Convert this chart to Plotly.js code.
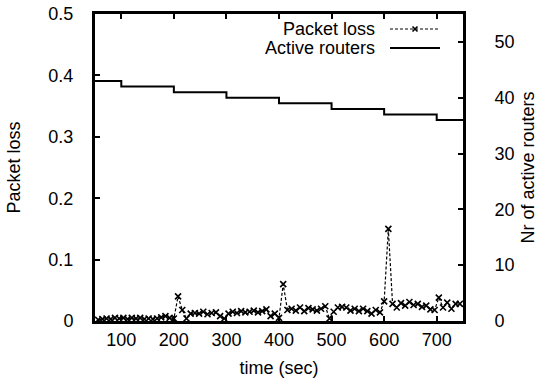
<!DOCTYPE html>
<html>
<head>
<meta charset="utf-8">
<script src="https://cdn.plot.ly/plotly-3.0.1.min.js"></script>
<style>html,body{margin:0;padding:0;background:#fff;}#chart{width:541px;height:385px;}</style>
</head>
<body>
<div id="chart"></div>
<script>
// Packet loss samples (time in seconds, loss fraction)
var lossTime = [56,64,72,80,88,96,104,112,120,128,136,144,152,160,168,176,184,192,200,208,216,224,232,240,248,256,264,272,280,288,296,304,312,320,328,336,344,352,360,368,376,384,392,400,408,416,424,432,440,448,456,464,472,480,488,496,504,512,520,528,536,544,552,560,568,576,584,592,600,608,616,624,632,640,648,656,664,672,680,688,696,704,712,720,728,736,744];
var lossValue = [0.002,0.003,0.004,0.003,0.005,0.004,0.005,0.003,0.005,0.004,0.005,0.003,0.004,0.003,0.004,0.006,0.008,0.005,0.004,0.040,0.018,0.004,0.012,0.013,0.012,0.015,0.011,0.013,0.014,0.008,0.004,0.012,0.015,0.013,0.016,0.014,0.015,0.017,0.014,0.016,0.019,0.008,0.012,0.005,0.060,0.018,0.020,0.017,0.022,0.016,0.021,0.019,0.017,0.020,0.024,0.004,0.015,0.022,0.023,0.022,0.017,0.020,0.016,0.020,0.016,0.012,0.018,0.014,0.032,0.150,0.028,0.022,0.029,0.025,0.031,0.026,0.028,0.023,0.025,0.019,0.018,0.038,0.022,0.030,0.020,0.028,0.028];

// Active routers (step changes)
var routerTime = [50,100,200,300,400,500,600,700,750];
var routerCount = [43,42,41,40,39,38,37,36,36];

var xTicks = [100,200,300,400,500,600,700];
var yTicks = [0,0.1,0.2,0.3,0.4,0.5];
var y2Ticks = [0,10,20,30,40,50];
var legendLabels = ["Packet loss","Active routers"];

var FONT = "Liberation Sans, Arial, Helvetica, sans-serif";

var traces = [
  {
    x: lossTime, y: lossValue, type: "scatter", mode: "lines+markers",
    name: legendLabels[0], xaxis: "x", yaxis: "y",
    line: {color: "#000", width: 1.2, dash: "3px,2px"},
    marker: {symbol: "x-thin-open", size: 6, color: "#000", line: {color: "#000", width: 1.6}}
  },
  {
    x: routerTime, y: routerCount, type: "scatter", mode: "lines",
    name: legendLabels[1], xaxis: "x", yaxis: "y2",
    line: {color: "#000", width: 2, shape: "hv"}
  }
];

// plot area in pixels for legend placement
var L = 95, R = 463, T = 14, B = 321;
function px(x){ return (x - L) / (R - L); }
function py(y){ return (B - y) / (B - T); }

var layout = {
  width: 541, height: 385,
  margin: {l: L, r: 541 - R, t: T, b: 385 - B},
  paper_bgcolor: "#fff", plot_bgcolor: "#fff",
  font: {family: FONT, size: 18, color: "#000"},
  showlegend: false,
  xaxis: {
    range: [50, 750], tickvals: xTicks, ticktext: xTicks.map(String),
    ticks: "inside", ticklen: 5, tickwidth: 2, tickcolor: "#000",
    showline: true, linewidth: 3, linecolor: "#000", mirror: "ticks",
    showgrid: false, zeroline: false, ticklabelstandoff: 0,
    title: {text: "time (sec)", font: {family: FONT, size: 18}, standoff: 13}
  },
  yaxis: {
    range: [0, 0.5], tickvals: yTicks, ticktext: yTicks.map(function(v){return String(v);}),
    ticks: "inside", ticklen: 5, tickwidth: 2, tickcolor: "#000",
    showline: true, linewidth: 3, linecolor: "#000", mirror: true,
    showgrid: false, zeroline: false, ticklabelstandoff: 15,
    title: {text: "Packet loss", font: {family: FONT, size: 18}, standoff: 24}
  },
  yaxis2: {
    range: [0, 55], tickvals: y2Ticks, ticktext: y2Ticks.map(String),
    overlaying: "y", side: "right",
    ticks: "inside", ticklen: 5, tickwidth: 2, tickcolor: "#000",
    showline: true, linewidth: 3, linecolor: "#000",
    showgrid: false, zeroline: false, ticklabelstandoff: 25,
    title: {text: "Nr of active routers", font: {family: FONT, size: 18}, standoff: 8}
  },
  annotations: [
    {xref: "paper", yref: "paper", x: px(377), y: py(29), xanchor: "right", yanchor: "middle",
     text: legendLabels[0], showarrow: false, font: {family: FONT, size: 18, color: "#000"}},
    {xref: "paper", yref: "paper", x: px(377), y: py(48), xanchor: "right", yanchor: "middle",
     text: legendLabels[1], showarrow: false, font: {family: FONT, size: 18, color: "#000"}}
  ],
  shapes: [
    {type: "line", xref: "paper", yref: "paper", x0: px(390), x1: px(440), y0: py(29), y1: py(29),
     line: {color: "#000", width: 1.2, dash: "3px,2px"}},
    {type: "line", xref: "paper", yref: "paper", xsizemode: "pixel", ysizemode: "pixel",
     xanchor: px(415), yanchor: py(29), x0: -2.5, x1: 2.5, y0: -2.5, y1: 2.5, line: {color: "#000", width: 1.6}},
    {type: "line", xref: "paper", yref: "paper", xsizemode: "pixel", ysizemode: "pixel",
     xanchor: px(415), yanchor: py(29), x0: -2.5, x1: 2.5, y0: 2.5, y1: -2.5, line: {color: "#000", width: 1.6}},
    {type: "line", xref: "paper", yref: "paper", x0: px(390), x1: px(440), y0: py(48), y1: py(48),
     line: {color: "#000", width: 2}}
  ]
};

Plotly.newPlot("chart", traces, layout, {displayModeBar: false, staticPlot: true});
</script>
</body>
</html>
